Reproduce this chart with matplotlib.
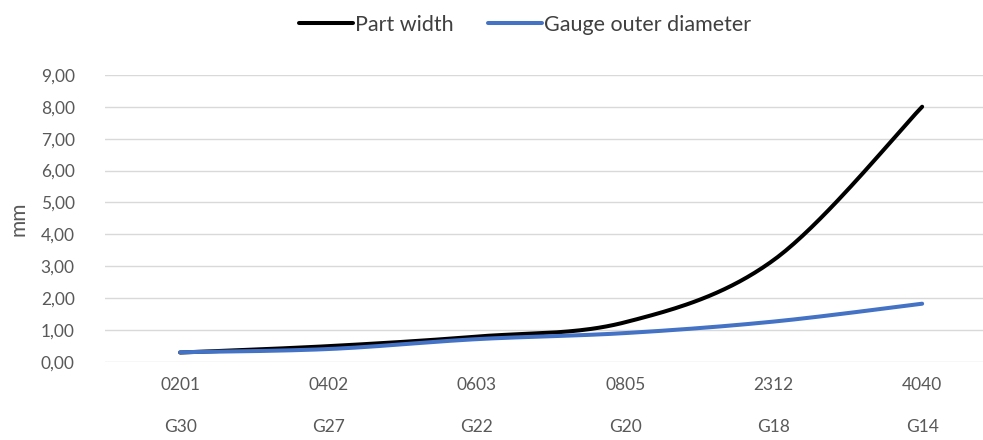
import numpy as np
import matplotlib
matplotlib.use('Agg')
import matplotlib.pyplot as plt
from matplotlib.ticker import FuncFormatter
import matplotlib.transforms as mtransforms

plt.rcParams['font.family'] = ['Lato', 'DejaVu Sans']

sizes = ['0201', '0402', '0603', '0805', '2312', '4040']
gauges = ['G30', 'G27', 'G22', 'G20', 'G18', 'G14']
part_width = [0.30, 0.50, 0.80, 1.25, 3.20, 8.00]
gauge_od = [0.31, 0.41, 0.72, 0.91, 1.27, 1.83]


def smooth(xs, ys, n=40):
    # Excel-like smoothed line (Catmull-Rom through the points)
    xs = np.asarray(xs, float)
    ys = np.asarray(ys, float)
    px = np.concatenate([[xs[0]], xs, [xs[-1]]])
    py = np.concatenate([[ys[0]], ys, [ys[-1]]])
    out_x, out_y = [], []
    t = np.linspace(0, 1, n)
    for i in range(1, len(px) - 2):
        for p, out in ((px, out_x), (py, out_y)):
            p0, p1, p2, p3 = p[i - 1], p[i], p[i + 1], p[i + 2]
            c1 = p1 + (p2 - p0) / 6
            c2 = p2 - (p3 - p1) / 6
            b = ((1 - t) ** 3 * p1 + 3 * (1 - t) ** 2 * t * c1
                 + 3 * (1 - t) * t ** 2 * c2 + t ** 3 * p2)
            out.extend(b)
    return np.array(out_x), np.array(out_y)


fig = plt.figure(figsize=(9.83, 4.4), dpi=100)
ax = fig.add_axes([0.107, 0.177, 0.893, 0.653])

x = np.arange(len(sizes))
sx, sy = smooth(x, part_width)
ax.plot(sx, sy, color='black', lw=2.9, solid_capstyle='round', label='Part width')
gx, gy = smooth(x, gauge_od)
ax.plot(gx, gy, color='#4472C4', lw=2.9, solid_capstyle='round', label='Gauge outer diameter')

ax.set_ylim(0, 9)
ax.set_xlim(-0.505, 5.41)
ax.set_yticks(np.arange(0, 10, 1))
ax.yaxis.set_major_formatter(FuncFormatter(lambda v, p: f"{v:.2f}".replace('.', ',')))
ax.grid(axis='y', color='#d9d9d9', lw=1)
ax.set_axisbelow(True)
for s in ax.spines.values():
    s.set_visible(False)
ax.tick_params(length=0, labelsize=12.5, colors='#595959')
ax.tick_params(axis='y', pad=22)
ax.tick_params(axis='x', pad=11)
ax.set_xticks(x)
ax.set_xticklabels(sizes)

trans = mtransforms.blended_transform_factory(ax.transData, ax.transAxes)
for xi, g in zip(x, gauges):
    ax.text(xi, -0.225, g, transform=trans, ha='center', va='center',
            fontsize=12.5, color='#595959')

ax.set_ylabel('mm', fontsize=15, color='#595959', labelpad=9)

fig.legend(loc='upper center', bbox_to_anchor=(0.534, 1.01), ncol=2, frameon=False,
           fontsize=15.5, handlelength=2.5, handletextpad=0.1, columnspacing=1.6,
           labelcolor='#404040')

fig.savefig('out.png', dpi=100)
